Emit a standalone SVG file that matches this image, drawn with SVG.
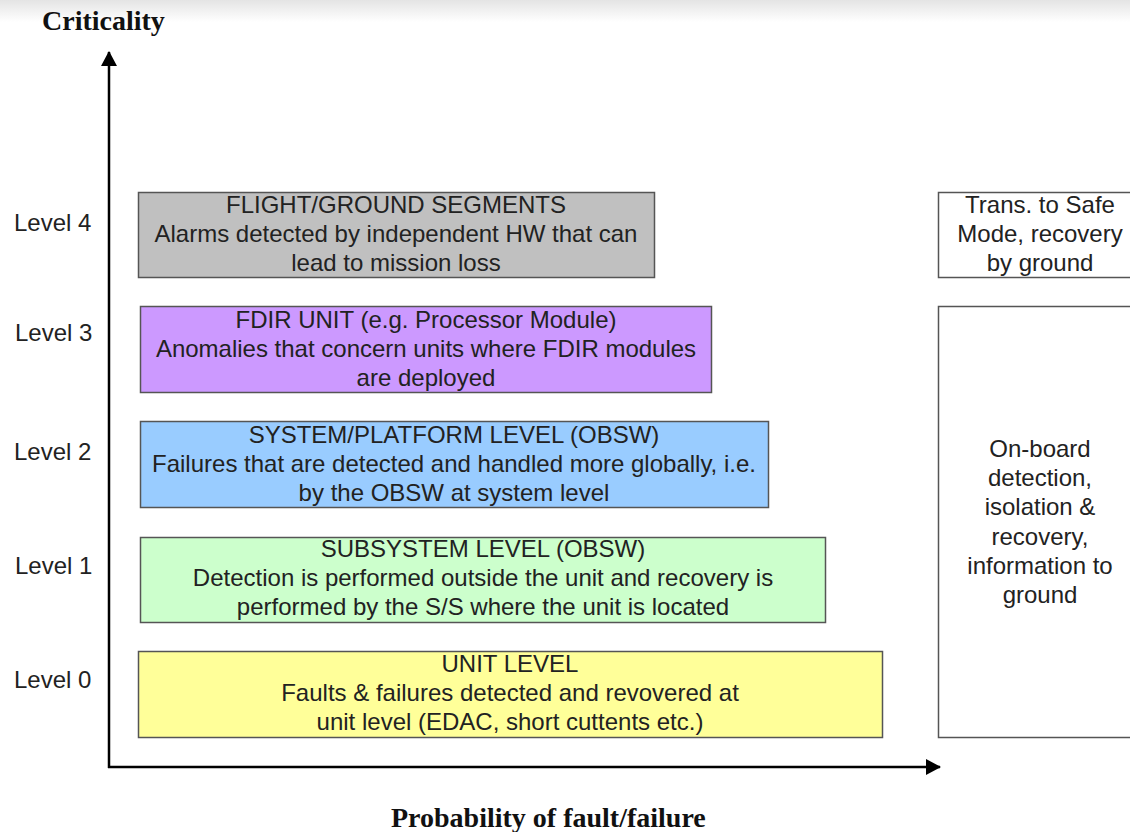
<svg xmlns="http://www.w3.org/2000/svg" width="1130" height="832" viewBox="0 0 1130 832">
<defs>
<marker id="arr" markerWidth="15" markerHeight="16" refX="14" refY="8" orient="auto" markerUnits="userSpaceOnUse">
<path d="M0,0 L15,8 L0,16 Z" fill="#000"/>
</marker>
<linearGradient id="topfade" x1="0" y1="0" x2="0" y2="1">
<stop offset="0" stop-color="#e4e4e4"/>
<stop offset="1" stop-color="#ffffff"/>
</linearGradient>
<style>
.box{stroke:#555;stroke-width:1.5}
.t{font-family:"Liberation Sans",Arial,sans-serif;font-size:24px;fill:#222;text-anchor:middle}
.lv{font-family:"Liberation Sans",Arial,sans-serif;font-size:24px;fill:#222}
.ax{font-family:"Liberation Serif","Times New Roman",serif;font-size:28px;font-weight:bold;fill:#111}
</style>
</defs>
<rect x="0" y="0" width="1130" height="832" fill="#fff"/>
<rect x="0" y="0" width="1130" height="22" fill="url(#topfade)"/>
<text class="ax" x="42" y="30">Criticality</text>
<text class="ax" x="391" y="827">Probability of fault/failure</text>
<g id="levels">
<text class="lv" x="14" y="231">Level 4</text>
<text class="lv" x="15" y="341">Level 3</text>
<text class="lv" x="14" y="460">Level 2</text>
<text class="lv" x="15" y="574">Level 1</text>
<text class="lv" x="14" y="688">Level 0</text>
</g>
<g id="connectors">
<line x1="109" y1="768" x2="109" y2="52" stroke="#000" stroke-width="2.5" marker-end="url(#arr)"/>
<line x1="108" y1="767" x2="940" y2="767" stroke="#000" stroke-width="2.5" marker-end="url(#arr)"/>
</g>
<g id="n4">
<rect class="box" x="138.5" y="192.5" width="516" height="85" fill="#c0c0c0"/>
<text class="t" x="396" y="213">FLIGHT/GROUND SEGMENTS</text>
<text class="t" x="396" y="242">Alarms detected by independent HW that can</text>
<text class="t" x="396" y="271">lead to mission loss</text>
</g>
<g id="n3">
<rect class="box" x="140.5" y="306.5" width="571" height="86" fill="#cc99ff"/>
<text class="t" x="426" y="328">FDIR UNIT (e.g. Processor Module)</text>
<text class="t" x="426" y="357">Anomalies that concern units where FDIR modules</text>
<text class="t" x="426" y="386">are deployed</text>
</g>
<g id="n2">
<rect class="box" x="140.5" y="421.5" width="628" height="86" fill="#99ccff"/>
<text class="t" x="454" y="443">SYSTEM/PLATFORM LEVEL (OBSW)</text>
<text class="t" x="454" y="472">Failures that are detected and handled more globally, i.e.</text>
<text class="t" x="454" y="501">by the OBSW at system level</text>
</g>
<g id="n1">
<rect class="box" x="140.5" y="537.5" width="685" height="85" fill="#ccffcc"/>
<text class="t" x="483" y="557">SUBSYSTEM LEVEL (OBSW)</text>
<text class="t" x="483" y="586">Detection is performed outside the unit and recovery is</text>
<text class="t" x="483" y="615">performed by the S/S where the unit is located</text>
</g>
<g id="n0">
<rect class="box" x="138.5" y="651.5" width="744" height="86" fill="#ffff99"/>
<text class="t" x="510" y="672">UNIT LEVEL</text>
<text class="t" x="510" y="701">Faults &amp; failures detected and revovered at</text>
<text class="t" x="510" y="730">unit level (EDAC, short cuttents etc.)</text>
</g>
<g id="safe">
<rect class="box" x="938.5" y="192.5" width="200" height="85" fill="#fff"/>
<text class="t" x="1040" y="213">Trans. to Safe</text>
<text class="t" x="1040" y="242">Mode, recovery</text>
<text class="t" x="1040" y="271">by ground</text>
</g>
<g id="onboard">
<rect class="box" x="938.5" y="306.5" width="200" height="431" fill="#fff"/>
<text class="t" x="1040" y="457">On-board</text>
<text class="t" x="1040" y="486">detection,</text>
<text class="t" x="1040" y="515">isolation &amp;</text>
<text class="t" x="1040" y="545">recovery,</text>
<text class="t" x="1040" y="574">information to</text>
<text class="t" x="1040" y="603">ground</text>
</g>
</svg>
